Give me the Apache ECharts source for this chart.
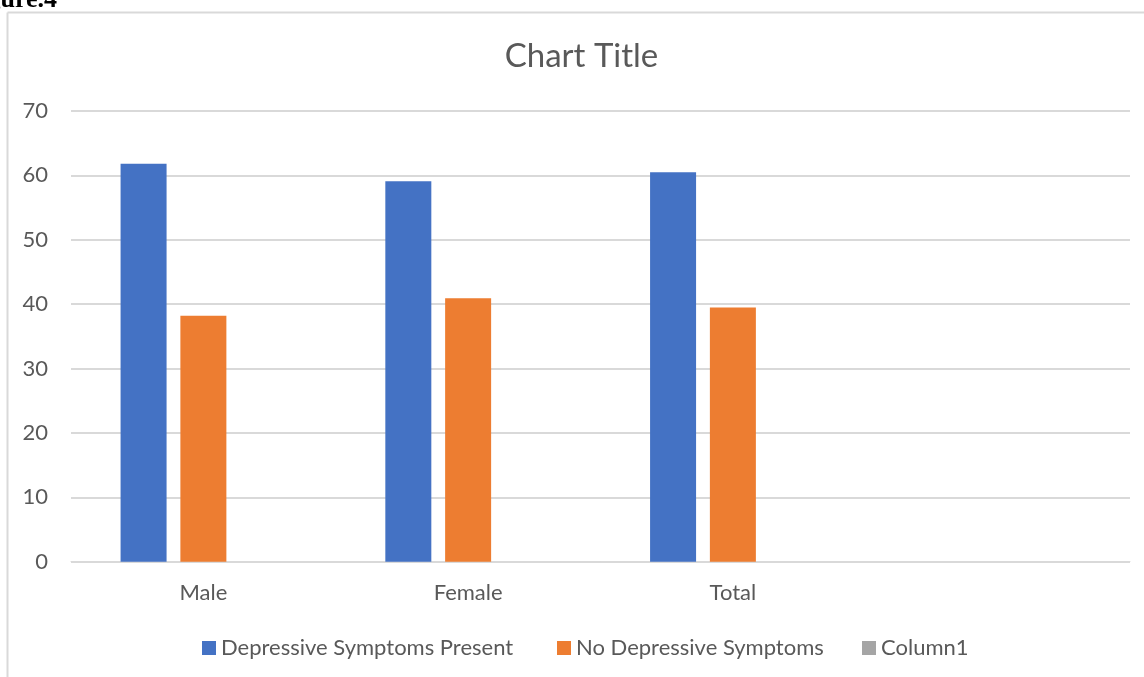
<!DOCTYPE html>
<html>
<head>
<meta charset="utf-8">
<script src="https://cdn.jsdelivr.net/npm/echarts@6/dist/echarts.min.js"></script>
<style>
  html, body { margin: 0; padding: 0; background: #fff; }
  #chart { width: 1144px; height: 677px; }
</style>
</head>
<body>
<div id="chart"></div>
<script>
// Share of respondents (%) with and without depressive symptoms, by group
const categories = ['Male', 'Female', 'Total', ''];
const symptomsPresent = [61.8, 59.1, 60.5, null];
const noSymptoms = [38.2, 40.9, 39.5, null];
const column1 = [null, null, null, null];
const seriesNames = ['Depressive Symptoms Present', 'No Depressive Symptoms', 'Column1'];
const yTicks = { min: 0, max: 70, interval: 10 };

const FONT = 'Lato';
const TEXT = '#595959';
const legendLefts = [197, 552, 857];

const chart = echarts.init(document.getElementById('chart'), null, { renderer: 'canvas' });

const legendStyle = (name, left) => ({
  left: left,
  top: 632,
  icon: 'rect',
  itemWidth: 14,
  itemHeight: 14,
  data: [name],
  textStyle: { fontFamily: FONT, fontSize: 22, color: TEXT }
});

chart.setOption({
  animation: false,
  backgroundColor: '#ffffff',
  color: ['#4472C4', '#ED7D31', '#A5A5A5'],
  title: {
    text: 'Chart Title',
    left: 576.5,
    textAlign: 'center',
    top: 35,
    textStyle: { fontFamily: FONT, fontWeight: 'normal', fontSize: 33, color: TEXT }
  },
  graphic: [
    // caption of the figure, cut off by the page edge
    { type: 'text', style: { x: 57, y: 13, text: 'Figure.4', align: 'right', verticalAlign: 'bottom',
      font: 'bold 26px "Liberation Serif"', fill: '#000' } },
    // frame edges of the embedded chart object
    { type: 'line', shape: { x1: 7.5, y1: 12.5, x2: 1144, y2: 12.5 }, style: { stroke: '#d9d9d9', lineWidth: 2 } },
    { type: 'line', shape: { x1: 7.5, y1: 12.5, x2: 7.5, y2: 677 }, style: { stroke: '#d9d9d9', lineWidth: 2 } }
  ],
  legend: seriesNames.map((n, i) => legendStyle(n, legendLefts[i])),
  grid: { left: 71, right: 14, top: 111, bottom: 115.3, containLabel: false },
  xAxis: {
    type: 'category',
    data: categories,
    axisLine: { show: true, lineStyle: { color: '#d9d9d9', width: 1 } },
    axisTick: { show: false },
    axisLabel: { fontFamily: FONT, fontSize: 22, color: TEXT, margin: 20 }
  },
  yAxis: {
    type: 'value',
    min: yTicks.min,
    max: yTicks.max,
    interval: yTicks.interval,
    axisLine: { show: false },
    axisTick: { show: false },
    splitLine: { lineStyle: { color: '#d9d9d9', width: 2 } },
    axisLabel: { fontFamily: FONT, fontSize: 22, color: TEXT, margin: 23 }
  },
  series: [
    { name: seriesNames[0], type: 'bar', data: symptomsPresent, barWidth: 46, barGap: '30%' },
    { name: seriesNames[1], type: 'bar', data: noSymptoms, barWidth: 46, barGap: '30%' },
    { name: seriesNames[2], type: 'bar', data: column1, barWidth: 46, barGap: '30%' }
  ]
});
</script>
</body>
</html>
